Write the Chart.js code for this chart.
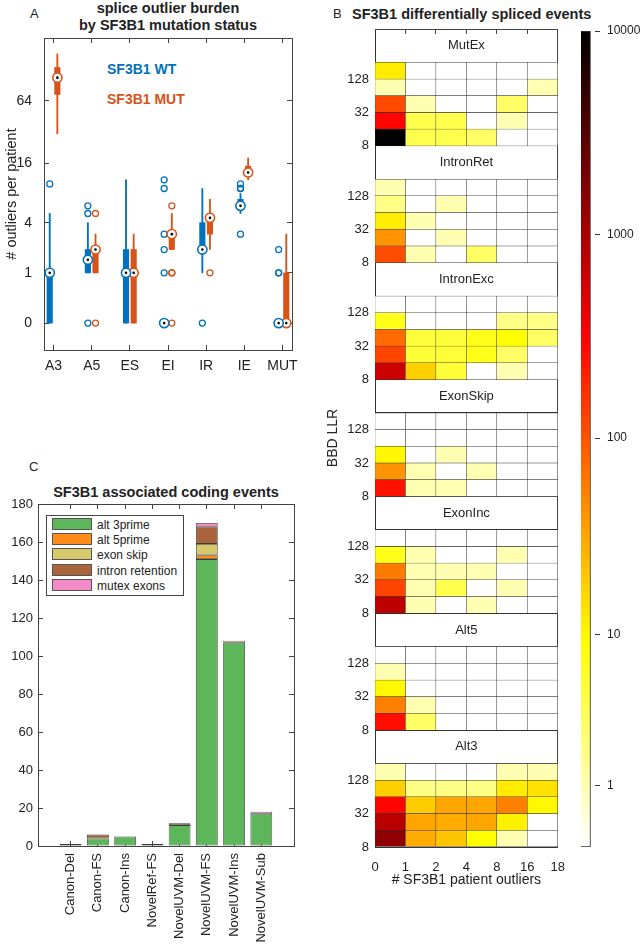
<!DOCTYPE html>
<html>
<head>
<meta charset="utf-8">
<script src="https://cdn.jsdelivr.net/npm/chart.js@4.4.1/dist/chart.umd.min.js"></script>
<style>
  body { margin: 0; background: #fff; width: 640px; height: 946px; position: relative; overflow: hidden;
         font-family: "Liberation Sans", Arial, sans-serif; color: #222; }
  canvas { position: absolute; }
  .ttl { position: absolute; white-space: nowrap; font-weight: bold; font-size: 14.5px; line-height: 17px; text-align: center; }
  .tag { position: absolute; font-size: 13px; }
  .key { position: absolute; white-space: nowrap; font-weight: bold; font-size: 14px; }
  #legendC { position: absolute; left: 46px; top: 515px; width: 136px; height: 79px; border: 1px solid #444; background: #fff; font-size: 12px; }
  #legendC div { position: absolute; left: 5px; height: 15px; line-height: 15px; }
  #legendC span { display: inline-block; width: 38px; height: 10px; border: 1px solid #555; vertical-align: -1px; margin-right: 5px; }
</style>
</head>
<body>
<div class="tag" style="left:30px;top:6px">A</div>
<div class="ttl" style="left:44px;width:248px;top:0">splice outlier burden<br>by SF3B1 mutation status</div>
<div class="key" style="left:107px;top:61px;color:#0072BD">SF3B1 WT</div>
<div class="key" style="left:107px;top:91px;color:#D95319">SF3B1 MUT</div>

<div class="tag" style="left:333px;top:6px">B</div>
<div class="ttl" style="left:352px;top:6px;text-align:left">SF3B1 differentially spliced events</div>

<div class="tag" style="left:29px;top:459px">C</div>
<div class="ttl" style="left:40px;width:252px;top:484px">SF3B1 associated coding events</div>

<canvas id="burden" width="320" height="380" style="left:0;top:0"></canvas>
<canvas id="heat" width="250" height="946" style="left:320px;top:0"></canvas>
<canvas id="cbar" width="70" height="946" style="left:570px;top:0"></canvas>
<canvas id="coding" width="320" height="486" style="left:0;top:460px"></canvas>
<div id="legendC"></div>

<script>
// ---------- panel A: outliers per patient ----------
const boxCats = ['A3', 'A5', 'ES', 'EI', 'IR', 'IE', 'MUT'];
// [lower whisker, q1, median, q3, upper whisker]
const wtBoxes = [[0,0,1,1,5], [1,1,1.5,2,4], [0,0,1,2,11], [0,0,0,0,0], [1,2,2,4,9], [5,6,6,7,8], [0,0,0,0,0]];
const mutBoxes = [[31,74,107,134,180], [1,1,2,2,3], [0,0,1,2,3], [2,2,3,3,5], [2,3,4.5,5,7], [11,12,13,15,18], [0,0,0,1,3]];
const wtOutliers = [[10], [0,5,6], [], [1,2,3,9,11], [0], [3,9,9,10], [1,1,2]];
const mutOutliers = [[], [0,5], [], [0,1,1,6], [1], [], []];
const burdenTicks = [0, 1, 4, 16, 64];

// ---------- panel B: differentially spliced events ----------
const blockNames = ['MutEx', 'IntronRet', 'IntronExc', 'ExonSkip', 'ExonInc', 'Alt5', 'Alt3'];
const llrLabels = ['8', '32', '128'];
const outlierEdges = ['0', '1', '2', '4', '8', '16', '18'];
const cbarTicks = [1, 10, 100, 1000, 10000];
// rows top to bottom: >=128, 64, 32, 16, 8 ; columns: patient outlier bins
const mutEx = [
  [12, 0, 0, 0, 0, 0],
  [1, 0, 0, 0, 0, 1],
  [115, 1, 0, 0, 3, 0],
  [300, 4, 4, 0, 1, 0],
  [10000, 4, 4, 3, 0, 0]
];
const intronRet = [
  [1, 0, 0, 0, 0, 0],
  [2, 0, 1, 0, 0, 0],
  [12, 1, 0, 0, 0, 0],
  [42, 0, 1, 0, 0, 0],
  [110, 1, 0, 3, 0, 0]
];
const intronExc = [
  [0, 0, 0, 0, 0, 0],
  [7, 0, 0, 0, 2, 2],
  [75, 5, 5, 7, 9, 3],
  [125, 5, 5, 7, 3, 0],
  [630, 18, 5, 0, 1, 0]
];
const exonSkip = [
  [0, 0, 0, 0, 0, 0],
  [0, 0, 0, 0, 0, 0],
  [10, 0, 1, 0, 0, 0],
  [42, 1, 0, 1, 0, 0],
  [250, 1, 1, 0, 0, 0]
];
const exonInc = [
  [0, 0, 0, 0, 0, 0],
  [7, 1, 0, 0, 1, 0],
  [59, 1, 1, 1, 0, 0],
  [125, 1, 4, 0, 1, 0],
  [760, 1, 0, 1, 0, 0]
];
const alt5 = [
  [0, 0, 0, 0, 0, 0],
  [1, 0, 0, 0, 0, 0],
  [10, 0, 0, 0, 0, 0],
  [55, 1, 0, 0, 0, 0],
  [260, 3, 0, 0, 0, 0]
];
const alt3 = [
  [1, 0, 0, 0, 1, 1],
  [18, 2, 2, 2, 12, 14],
  [300, 19, 32, 32, 55, 10],
  [830, 33, 30, 33, 11, 0],
  [1400, 30, 21, 9, 1, 0]
];

// ---------- panel C: coding events ----------
const codingCats = ['Canon-Del', 'Canon-FS', 'Canon-Ins', 'NovelRef-FS', 'NovelUVM-Del', 'NovelUVM-FS', 'NovelUVM-Ins', 'NovelUVM-Sub'];
const alt3prime = [1, 4, 5, 0, 11, 151, 107, 17];
const alt5prime = [0, 0, 0, 0, 0, 2, 0, 0];
const exonSkipC = [0, 0, 0, 0, 1, 6, 1, 0];
const intronRetention = [0, 2, 0, 1, 0, 9, 0, 0];
const mutexExons = [0, 0, 0, 0, 0, 2, 0, 1];

Chart.defaults.font.family = '"Liberation Sans", Arial, Helvetica, sans-serif';
Chart.defaults.color = '#222';

const axisColor = '#444';

function frameAxis(position, min, max, vals, ticksOn) {
  return {
    type: 'linear', position: position, min: min, max: max, z: 1, offset: false,
    afterBuildTicks: s => { s.ticks = vals.map(v => ({ value: v })); },
    afterFit: s => { if (position === 'top' || position === 'bottom') s.height = 0; else s.width = 0; },
    ticks: { display: false },
    grid: { offset: false, drawOnChartArea: false, drawTicks: ticksOn, tickLength: -5, color: axisColor },
    border: { display: true, color: axisColor }
  };
}

const baseOpts = {
  responsive: false,
  animation: false,
  events: [],
  plugins: { legend: { display: false }, tooltip: { enabled: false } }
};

// ---------- panel A ----------
const tr = v => Math.log2(v + 0.5);
const yMinA = -1.85, yMaxA = 8;

function boxSets(boxes, outl, color, off) {
  const px = i => i + 1 + off;
  return [
    { type: 'bar', order: 4, grouped: false, barThickness: 1.2, backgroundColor: color,
      data: boxes.map((b, i) => ({ x: px(i), y: [tr(b[0]), tr(b[4])] })) },
    { type: 'bar', order: 3, grouped: false, barThickness: 5.5, backgroundColor: color,
      data: boxes.map((b, i) => ({ x: px(i), y: [tr(b[1]), tr(b[3])] })) },
    { type: 'scatter', order: 2, pointRadius: 3, pointBorderWidth: 1.3,
      pointBorderColor: color, pointBackgroundColor: 'rgba(0,0,0,0)',
      data: outl.flatMap((o, i) => o.map(v => ({ x: px(i), y: tr(v) }))) },
    { type: 'scatter', order: 1, pointRadius: 4.6, pointBorderWidth: 1.6,
      pointBorderColor: color, pointBackgroundColor: '#fff',
      data: boxes.map((b, i) => ({ x: px(i), y: tr(b[2]) })) },
    { type: 'scatter', order: 0, pointRadius: 1.3, pointBorderWidth: 0, pointBackgroundColor: '#000',
      data: boxes.map((b, i) => ({ x: px(i), y: tr(b[2]) })) }
  ];
}

new Chart(document.getElementById('burden'), {
  type: 'bar',
  data: { datasets: boxSets(wtBoxes, wtOutliers, '#0072BD', -0.1).concat(boxSets(mutBoxes, mutOutliers, '#D95319', 0.1)) },
  options: Object.assign({}, baseOpts, {
    layout: { padding: { left: 0, top: 38, right: 28, bottom: 0 } },
    scales: {
      x: {
        type: 'linear', min: 0.75, max: 7.25, offset: false,
        afterBuildTicks: s => { s.ticks = boxCats.map((c, i) => ({ value: i + 1 })); },
        afterFit: s => { s.height = 30; },
        ticks: { callback: v => boxCats[Math.round(v) - 1], padding: 13, autoSkip: false, maxRotation: 0, font: { size: 14 } },
        grid: { offset: false, drawOnChartArea: false, tickLength: -5, color: axisColor },
        border: { color: axisColor }
      },
      y: {
        type: 'linear', min: yMinA, max: yMaxA,
        afterBuildTicks: s => { s.ticks = burdenTicks.map(v => ({ value: tr(v) })); },
        afterFit: s => { s.width = 44; },
        ticks: { callback: (v, i) => String(burdenTicks[i]), padding: 17, font: { size: 14 } },
        grid: { drawOnChartArea: false, tickLength: -5, color: axisColor },
        border: { color: axisColor },
        title: { display: true, text: '# outliers per patient', font: { size: 14.5 }, padding: { top: 3.3, bottom: 0 } }
      },
      x2: frameAxis('top', 0.75, 7.25, boxCats.map((c, i) => i + 1), true),
      y2: frameAxis('right', yMinA, yMaxA, burdenTicks.map(tr), true)
    }
  })
});

// ---------- panel B ----------
const cbMax = Math.log10(10001);
function hotR(f) {
  const t = 1 - Math.min(1, Math.max(0, f));
  const r = Math.min(1, t / 0.375);
  const g = Math.min(1, Math.max(0, (t - 0.375) / 0.375));
  const b = Math.min(1, Math.max(0, (t - 0.75) / 0.25));
  return 'rgb(' + Math.round(r * 255) + ',' + Math.round(g * 255) + ',' + Math.round(b * 255) + ')';
}
const countColor = n => hotR(Math.log10(n + 1) / cbMax);

const blocks = [mutEx, intronRet, intronExc, exonSkip, exonInc, alt5, alt3];
const nUnits = blocks.length * 7;

const heatSets = blocks.map((mat, b) => {
  const top = nUnits - 2 - 7 * b;   // below the header band
  const cells = [], colors = [];
  mat.forEach((row, r) => row.forEach((n, c) => {
    cells.push({ x: c + 0.5, y: [top - r - 1, top - r] });
    colors.push(countColor(n));
  }));
  return { type: 'bar', grouped: false, data: cells, backgroundColor: colors,
           borderColor: '#333', borderWidth: 0.5, borderSkipped: false,
           barPercentage: 1, categoryPercentage: 1 };
});

const heatTicks = [], heatLabels = [];
blocks.forEach((m, b) => {
  const base = nUnits - 7 - 7 * b;
  heatTicks.push(base, base + 2, base + 4, base + 5);
  heatLabels.push(llrLabels[0], llrLabels[1], llrLabels[2], '');
});
heatTicks.push(nUnits); heatLabels.push('');
const heatOrder = heatTicks.map((v, i) => i).sort((a, b) => heatTicks[a] - heatTicks[b]);

const headerLabels = {
  id: 'headerLabels',
  afterDatasetsDraw(chart) {
    const { ctx, chartArea, scales: { y } } = chart;
    ctx.save();
    ctx.font = '13px "Liberation Sans", Arial, sans-serif';
    ctx.fillStyle = '#222';
    ctx.textAlign = 'center';
    ctx.textBaseline = 'middle';
    blockNames.forEach((name, b) => {
      ctx.fillText(name, (chartArea.left + chartArea.right) / 2, y.getPixelForValue(nUnits - 1 - 7 * b));
    });
    ctx.restore();
  }
};

new Chart(document.getElementById('heat'), {
  type: 'bar',
  data: { datasets: heatSets },
  plugins: [headerLabels],
  options: Object.assign({}, baseOpts, {
    layout: { padding: { left: 0, top: 29, right: 2, bottom: 54 } },
    scales: {
      x: {
        type: 'linear', min: 0, max: 6, offset: false,
        afterBuildTicks: s => { s.ticks = outlierEdges.map((l, i) => ({ value: i })); },
        afterFit: s => { s.height = 45; },
        ticks: { callback: v => outlierEdges[Math.round(v)], padding: 5, autoSkip: false, maxRotation: 0, font: { size: 13 } },
        grid: { display: false, offset: false },
        border: { display: true, color: '#333' },
        title: { display: true, text: '# SF3B1 patient outliers', font: { size: 14 }, padding: { top: 0, bottom: 3.6 } }
      },
      y: {
        type: 'linear', min: 0, max: nUnits,
        afterBuildTicks: s => { s.ticks = heatOrder.map(i => ({ value: heatTicks[i] })); },
        afterFit: s => { s.width = 55; },
        ticks: { callback: (v, i) => heatLabels[heatOrder[i]], padding: 6, autoSkip: false, font: { size: 13 } },
        grid: { drawOnChartArea: true, drawTicks: false, color: '#333' },
        border: { display: true, color: '#333' },
        title: { display: true, text: 'BBD LLR', font: { size: 14 }, padding: { top: 4.6, bottom: 0 } }
      },
      x2: frameAxis('top', 0, 6, outlierEdges.map((l, i) => i), true),
      y2: frameAxis('right', 0, nUnits, [0, nUnits], false)
    }
  })
});

// colorbar
new Chart(document.getElementById('cbar'), {
  type: 'bar',
  data: {
    labels: [''],
    datasets: [{
      data: [[0, cbMax]],
      barPercentage: 1, categoryPercentage: 1,
      borderColor: '#333', borderWidth: 1, borderSkipped: false,
      backgroundColor: c => {
        const a = c.chart.chartArea;
        if (!a) return '#fff';
        const g = c.chart.ctx.createLinearGradient(0, a.bottom, 0, a.top);
        for (let i = 0; i <= 64; i++) g.addColorStop(i / 64, hotR(i / 64));
        return g;
      }
    }]
  },
  options: Object.assign({}, baseOpts, {
    layout: { padding: { left: 11, top: 31, right: 0, bottom: 99 } },
    scales: {
      x: { display: false, offset: false },
      y: {
        position: 'right', min: 0, max: cbMax, z: 1,
        afterBuildTicks: s => { s.ticks = cbarTicks.map(v => ({ value: Math.log10(v + 1) })); },
        afterFit: s => { s.width = 40; },
        ticks: { callback: (v, i) => String(cbarTicks[i]), padding: 12, font: { size: 12 } },
        grid: { drawOnChartArea: false, tickLength: -5, color: '#333' },
        border: { display: false }
      }
    }
  })
});

// ---------- panel C ----------
const codingSeries = [
  ['alt 3prime', alt3prime, '#5DB65A'],
  ['alt 5prime', alt5prime, '#FF8A1C'],
  ['exon skip', exonSkipC, '#D8C86C'],
  ['intron retention', intronRetention, '#A9643C'],
  ['mutex exons', mutexExons, '#F28CC8']
];

new Chart(document.getElementById('coding'), {
  type: 'bar',
  data: {
    datasets: codingSeries.map(s => ({
      label: s[0],
      data: s[1].map((v, i) => ({ x: i + 1, y: v })),
      backgroundColor: s[2], borderColor: '#3a3a3a', borderWidth: 0.8, borderSkipped: false,
      barPercentage: 0.8, categoryPercentage: 1
    }))
  },
  options: Object.assign({}, baseOpts, {
    layout: { padding: { left: 0, top: 44, right: 26, bottom: 0 } },
    scales: {
      x: {
        type: 'linear', stacked: true, min: -0.2, max: 9.2, offset: false,
        afterBuildTicks: s => { s.ticks = codingCats.map((c, i) => ({ value: i + 1 })); },
        afterFit: s => { s.height = 100; },
        ticks: { callback: v => codingCats[Math.round(v) - 1], padding: 12, autoSkip: false, minRotation: 90, maxRotation: 90, font: { size: 13 } },
        grid: { offset: false, drawOnChartArea: false, tickLength: -5, color: axisColor },
        border: { color: axisColor }
      },
      y: {
        type: 'linear', stacked: true, min: 0, max: 180,
        afterFit: s => { s.width = 38; },
        ticks: { stepSize: 20, padding: 10, font: { size: 13 } },
        grid: { drawOnChartArea: false, tickLength: -5, color: axisColor },
        border: { color: axisColor }
      },
      x2: frameAxis('top', -0.2, 9.2, codingCats.map((c, i) => i + 1), true),
      y2: frameAxis('right', 0, 180, [0, 20, 40, 60, 80, 100, 120, 140, 160, 180], true)
    }
  })
});

// legend box for panel C
const legendC = document.getElementById('legendC');
codingSeries.forEach((s, i) => {
  const row = document.createElement('div');
  row.style.top = (2 + i * 15.2) + 'px';
  row.innerHTML = '<span style="background:' + s[2] + '"></span>' + s[0];
  legendC.appendChild(row);
});
</script>
</body>
</html>
